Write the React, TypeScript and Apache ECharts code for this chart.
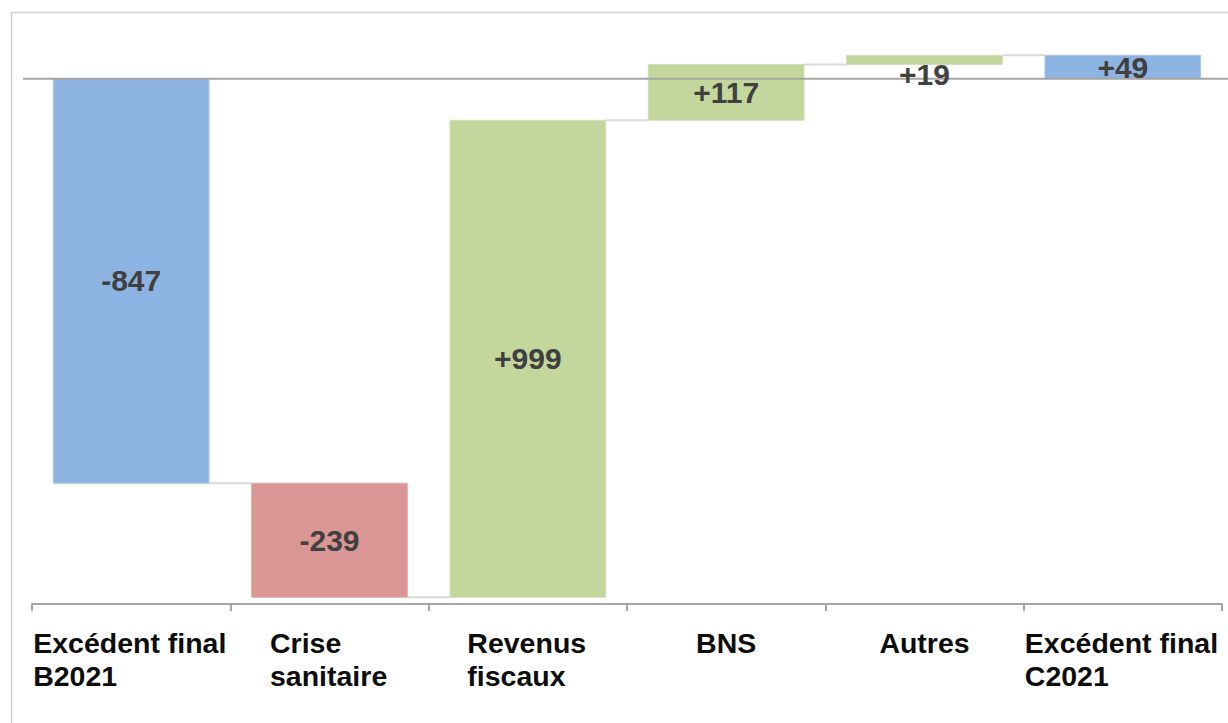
import React, { useEffect, useRef } from "react";
import * as echarts from "echarts";

const categories = [
  "Excédent final\nB2021",
  "Crise\nsanitaire",
  "Revenus\nfiscaux",
  "BNS",
  "Autres",
  "Excédent final\nC2021",
];
const changes = [-847, -239, 999, 117, 19, 49];
const kinds = ["total", "neg", "pos", "pos", "pos", "total"];
const valueLabels = ["-847", "-239", "+999", "+117", "+19", "+49"];
const yMin = -1100;
const yMax = 100;

const colors: Record<string, string> = {
  total: "#8DB3E2",
  neg: "#D99694",
  pos: "#C3D69B",
};
const strokes: Record<string, string> = {
  total: "#A9C6EA",
  neg: "#E2ACAA",
  pos: "#D0DFB0",
};

const FONT = '"Liberation Sans", Arial, Helvetica, sans-serif';

export default function App() {
  const ref = useRef<HTMLDivElement>(null);

  useEffect(() => {
    if (!ref.current) return;
    const chart = echarts.init(ref.current, undefined, { renderer: "svg" });

    // waterfall ranges built from the read changes
    const bars: number[][] = [];
    let run = 0;
    changes.forEach((v, i) => {
      let s: number, e: number;
      if (kinds[i] === "total") {
        s = 0;
        e = v;
      } else {
        s = run;
        e = run + v;
      }
      run = e;
      bars.push([i, s, e]);
    });
    const connectors = bars.slice(0, -1).map((b) => [b[0], b[2]]);

    const labelWidths = [196, 119, 121, 0, 0, 196];
    const rich: Record<string, any> = {};
    labelWidths.forEach((w, i) => {
      rich["w" + i] = {
        fontFamily: FONT,
        fontSize: 28.5,
        fontWeight: "bold",
        color: "#0d0d0d",
        lineHeight: 33,
        align: "left",
        ...(w ? { width: w } : {}),
      };
    });

    const option: any = {
      animation: false,
      backgroundColor: "#ffffff",
      graphic: [
        {
          type: "rect",
          silent: true,
          shape: { x: 11.5, y: 12.5, width: 1400, height: 900 },
          style: { fill: "none", stroke: "#d0d0d0", lineWidth: 1.5 },
        },
      ],
      grid: { left: 32, right: 6, top: 31, bottom: 119, containLabel: false },
      xAxis: {
        type: "category",
        data: categories,
        axisLine: { show: true, onZero: false, lineStyle: { color: "#a6a6a6", width: 2 } },
        axisTick: { show: true, interval: 0, length: 7, lineStyle: { color: "#a6a6a6", width: 2 } },
        axisLabel: {
          interval: 0,
          margin: 22,
          formatter: (val: string, idx: number) =>
            val
              .split("\n")
              .map((l) => `{w${idx}|${l}}`)
              .join("\n"),
          rich,
        },
        splitLine: { show: false },
      },
      yAxis: {
        type: "value",
        min: yMin,
        max: yMax,
        show: false,
        splitLine: { show: false },
      },
      series: [
        {
          type: "custom",
          name: "connectors",
          z: 1,
          silent: true,
          data: connectors,
          encode: { x: 0, y: 1 },
          renderItem: (params: any, api: any) => {
            const i = api.value(0);
            const lvl = api.value(1);
            const bw = api.size([1, 0])[0] * 0.785;
            const a = api.coord([i, lvl]);
            const b = api.coord([i + 1, lvl]);
            return {
              type: "line",
              shape: { x1: a[0] + bw / 2, y1: a[1], x2: b[0] - bw / 2, y2: b[1] },
              style: { stroke: "#d9d9d9", lineWidth: 2 },
            };
          },
        },
        {
          type: "custom",
          name: "bars",
          z: 2,
          silent: true,
          data: bars,
          encode: { x: 0, y: [1, 2] },
          renderItem: (params: any, api: any) => {
            const i = api.value(0);
            const p1 = api.coord([i, api.value(1)]);
            const p2 = api.coord([i, api.value(2)]);
            const bw = api.size([1, 0])[0] * 0.785;
            const k = kinds[params.dataIndex];
            return {
              type: "rect",
              shape: {
                x: p1[0] - bw / 2,
                y: Math.min(p1[1], p2[1]),
                width: bw,
                height: Math.abs(p1[1] - p2[1]),
              },
              style: { fill: colors[k], stroke: strokes[k], lineWidth: 1 },
            };
          },
        },
        {
          type: "custom",
          name: "zero",
          z: 3,
          silent: true,
          data: [[0, 0]],
          encode: { x: 0, y: 1 },
          renderItem: (params: any, api: any) => {
            const cs = params.coordSys;
            const y = api.coord([0, 0])[1];
            return {
              type: "line",
              shape: { x1: cs.x - 9, y1: y, x2: cs.x + cs.width + 6, y2: y },
              style: { stroke: "#a6a6a6", lineWidth: 2 },
            };
          },
        },
        {
          type: "custom",
          name: "labels",
          z: 4,
          silent: true,
          data: bars,
          encode: { x: 0, y: [1, 2] },
          renderItem: (params: any, api: any) => {
            const i = api.value(0);
            const p1 = api.coord([i, api.value(1)]);
            const p2 = api.coord([i, api.value(2)]);
            const h = Math.abs(p1[1] - p2[1]);
            const bottom = Math.max(p1[1], p2[1]);
            const y = h < 15 ? bottom + 10 : (p1[1] + p2[1]) / 2;
            return {
              type: "text",
              x: p1[0],
              y: y,
              style: {
                text: valueLabels[params.dataIndex],
                fill: "#404040",
                font: `bold 30px ${FONT}`,
                align: "center",
                verticalAlign: "middle",
              },
            };
          },
        },
      ],
    };

    chart.setOption(option);
    return () => chart.dispose();
  }, []);

  return (
    <div
      ref={ref}
      style={{ position: "fixed", left: 0, top: 0, width: 1228, height: 723 }}
    />
  );
}
